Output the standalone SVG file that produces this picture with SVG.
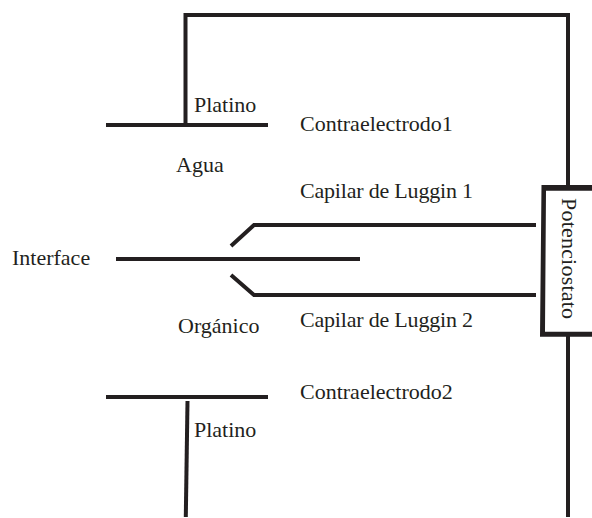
<svg xmlns="http://www.w3.org/2000/svg" width="592" height="518" viewBox="0 0 592 518">
<style>
text{font-family:"Liberation Serif","Times New Roman",serif;font-size:22px;fill:#231f20}
.w{fill:none;stroke:#231f20;stroke-width:4}
</style>
<rect width="592" height="518" fill="#fff"/>
<g id="connectors">
<path class="w" d="M185.500 125V15H568V187"/>
<path class="w" d="M568 335V517"/>
<path class="w" d="M187.500 401L185.800 517"/>
<path class="w" d="M231 246L254 225H536"/>
<path class="w" stroke-width="4.500" d="M231 275L254 295H536"/>
</g>
<g id="platino-top"><path class="w" d="M106 125H268"/></g>
<g id="interface-line"><path class="w" d="M116 259H360"/></g>
<g id="platino-bottom"><path class="w" d="M106 397H268"/></g>
<g id="potenciostato">
<path d="M592 185H541.500L540 336.700H592V331.700H545L546 190.700H592Z" fill="#231f20"/>
<text transform="translate(562,198) rotate(90)" textLength="121">Potenciostato</text>
</g>
<g id="labels">
<text x="194" y="112">Platino</text>
<text x="300" y="131">Contraelectrodo1</text>
<text x="176" y="172">Agua</text>
<text x="300" y="198" textLength="173">Capilar de Luggin 1</text>
<text x="12" y="265">Interface</text>
<text x="300" y="327" textLength="173">Capilar de Luggin 2</text>
<text x="178" y="333">Orgánico</text>
<text x="300" y="399">Contraelectrodo2</text>
<text x="194" y="437">Platino</text>
</g>
</svg>
